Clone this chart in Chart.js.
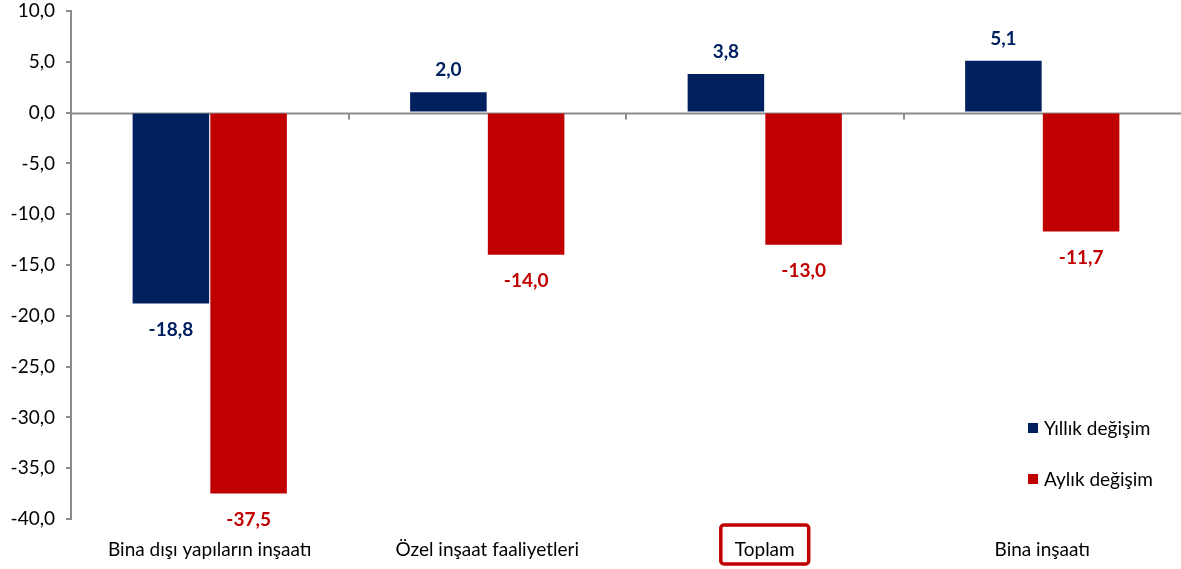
<!DOCTYPE html>
<html>
<head>
<meta charset="utf-8">
<script src="https://cdn.jsdelivr.net/npm/chart.js@4/dist/chart.umd.min.js"></script>
<style>
  body { margin: 0; background: #fff; }
  #wrap { width: 1181px; height: 569px; }
</style>
</head>
<body>
<div id="wrap"><canvas id="chart" width="1181" height="569"></canvas></div>
<script>
// data
var categories = ['Bina dışı yapıların inşaatı', 'Özel inşaat faaliyetleri', 'Toplam', 'Bina inşaatı'];
var yillik = [-18.8, 2.0, 3.8, 5.1];
var aylik = [-37.5, -14.0, -13.0, -11.7];
var seriesNames = ['Yıllık değişim', 'Aylık değişim'];
var highlighted = 'Toplam';

var NAVY = '#002060';
var RED = '#C00000';
var AXIS = '#8c8c8c';
var FONT = 'Lato, "Open Sans", sans-serif';

function fmt(v) {
    return v.toFixed(1).replace('.', ',');
}

// zero line + category boundary ticks, data labels, legend, Toplam box
var extras = {
    id: 'extras',
    beforeDatasetsDraw: function (chart) {
        var ctx = chart.ctx, x = chart.scales.x, y = chart.scales.y, area = chart.chartArea;
        var y0 = Math.round(y.getPixelForValue(0)) + 0.5;
        ctx.save();
        ctx.strokeStyle = AXIS;
        ctx.lineWidth = 2;
        ctx.beginPath();
        ctx.moveTo(area.left, y0);
        ctx.lineTo(area.right, y0);
        for (var i = 0; i < categories.length - 1; i++) {
            var bx = Math.round((x.getPixelForTick(i) + x.getPixelForTick(i + 1)) / 2);
            ctx.moveTo(bx, y0);
            ctx.lineTo(bx, y0 + 6);
        }
        ctx.stroke();
        ctx.restore();
    },
    afterDatasetsDraw: function (chart) {
        var ctx = chart.ctx, x = chart.scales.x, area = chart.chartArea;
        ctx.save();
        ctx.font = 'bold 19px ' + FONT;
        ctx.textAlign = 'center';
        ctx.textBaseline = 'middle';
        chart.data.datasets.forEach(function (ds, di) {
            var meta = chart.getDatasetMeta(di);
            meta.data.forEach(function (bar, i) {
                var v = ds.data[i];
                ctx.fillStyle = ds.backgroundColor;
                var ly = v >= 0 ? bar.y - 22 : bar.y + 26;
                ctx.fillText(fmt(v), bar.x, ly);
            });
        });

        // legend inside the plot
        ctx.font = '19px ' + FONT;
        ctx.textAlign = 'left';
        chart.data.datasets.forEach(function (ds, di) {
            var ly = 428 + di * 51;
            ctx.fillStyle = ds.backgroundColor;
            ctx.fillRect(1028, ly - 5, 10, 10);
            ctx.fillStyle = '#000';
            ctx.fillText(ds.label, 1044, ly + 1);
        });

        // box around highlighted category label
        var hi = categories.indexOf(highlighted);
        var cx = x.getPixelForTick(hi);
        var w = ctx.measureText(highlighted).width;
        ctx.strokeStyle = RED;
        ctx.lineWidth = 3.5;
        ctx.lineJoin = 'round';
        ctx.beginPath();
        ctx.roundRect(cx - w / 2 - 14, 525, w + 28, 39, 3);
        ctx.stroke();
        ctx.restore();
    }
};

new Chart(document.getElementById('chart'), {
    type: 'bar',
    data: {
        labels: categories,
        datasets: [
            { label: seriesNames[0], data: yillik, backgroundColor: NAVY, categoryPercentage: 0.56, barPercentage: 0.985 },
            { label: seriesNames[1], data: aylik, backgroundColor: RED, categoryPercentage: 0.56, barPercentage: 0.985 }
        ]
    },
    options: {
        responsive: false,
        animation: false,
        layout: { padding: { top: 11, right: -2, left: 0, bottom: 0 } },
        plugins: {
            legend: { display: false },
            tooltip: { enabled: false }
        },
        scales: {
            x: {
                grid: { display: false, drawTicks: false },
                border: { display: false },
                ticks: { color: '#000', font: { family: FONT, size: 19 }, padding: 19, maxRotation: 0 },
                afterFit: function (s) { s.height = 50; s.paddingLeft = 0; s.paddingRight = 0; }
            },
            y: {
                min: -40,
                max: 10,
                grid: { drawOnChartArea: false, color: AXIS, lineWidth: 2, tickLength: 5 },
                border: { color: AXIS, width: 2 },
                ticks: {
                    stepSize: 5,
                    color: '#000',
                    padding: 11,
                    font: { family: FONT, size: 19 },
                    callback: function (v) { return fmt(v); }
                },
                afterFit: function (s) { s.width = 71; s.paddingTop = 0; s.paddingBottom = 0; }
            }
        }
    },
    plugins: [extras]
});
</script>
</body>
</html>
